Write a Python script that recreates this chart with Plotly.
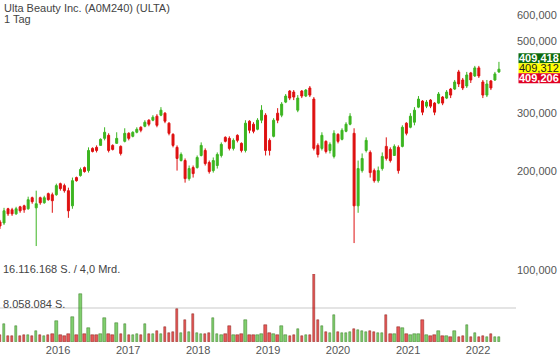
import plotly.graph_objects as go
import pandas as pd

# ---------------- data ----------------
title_text = "Ulta Beauty Inc. (A0M240) (ULTA)"
period_text = "1 Tag"
start_date = "2015-03-04"          # first candle
candle_step = "21D"                # each candle summarises ~3 weeks

open_ = [140.1, 139.1, 153.7, 152.6, 148.3, 155.8, 156.9, 153.7, 166.1, 154.7,
         166.1, 160.3, 170.9, 169.6, 169.6, 183.3, 180.8, 174.5, 156.9, 191.3,
         194.0, 205.2, 200.9, 234.8, 236.5, 239.8, 251.9, 257.3, 239.8, 243.2,
         238.1, 246.7, 261.0, 255.5, 262.9, 272.3, 274.2, 286.1, 286.1, 294.3,
         296.4, 300.6, 280.2, 259.2, 236.5, 215.6, 215.6, 189.9, 205.2, 205.2,
         223.4, 231.4, 212.6, 200.9, 208.2, 223.4, 253.7, 251.9, 234.8, 257.3,
         243.2, 231.4, 284.1, 278.2, 268.5, 286.1, 296.4, 248.4, 255.5, 300.6,
         296.4, 324.9, 351.1, 348.7, 307.0, 351.1, 339.0, 358.8, 331.9, 239.8,
         234.8, 246.7, 231.4, 221.9, 259.2, 250.2, 264.7, 278.2, 261.0, 156.9,
         200.9, 231.4, 228.2, 200.9, 187.2, 203.8, 238.1, 233.1, 223.4, 236.5,
         238.1, 280.2, 272.3, 282.1, 313.6, 327.2, 315.8, 329.5, 322.6, 322.6,
         336.6, 334.2, 356.1, 356.1, 401.6, 379.5, 363.8, 398.8, 390.4, 413.1,
         374.2, 341.3, 376.9, 379.5, 401.6]
high = [142.1, 154.7, 154.7, 154.7, 155.8, 156.9, 158.1, 167.3, 167.3, 174.5,
        167.3, 168.4, 172.1, 172.1, 183.3, 184.6, 183.3, 178.2, 191.3, 192.6,
        205.2, 206.7, 236.5, 236.5, 239.8, 251.9, 272.3, 261.0, 241.5, 262.9,
        239.8, 270.4, 262.9, 264.7, 272.3, 274.2, 286.1, 288.2, 296.4, 298.5,
        313.6, 302.7, 282.1, 261.0, 239.8, 228.2, 218.8, 208.2, 208.2, 223.4,
        244.9, 234.8, 215.6, 220.3, 228.2, 244.9, 255.5, 255.5, 251.9, 259.2,
        244.9, 286.1, 286.1, 282.1, 290.2, 318.0, 300.6, 251.9, 290.2, 311.4,
        324.9, 343.8, 353.6, 353.6, 341.3, 353.6, 356.1, 363.8, 336.6, 243.2,
        262.9, 248.4, 244.9, 266.6, 261.0, 270.4, 282.1, 300.6, 270.4, 215.6,
        226.6, 253.7, 231.4, 203.8, 206.7, 228.2, 253.7, 236.5, 241.5, 239.8,
        276.1, 282.1, 300.6, 313.6, 339.0, 329.5, 329.5, 331.9, 324.9, 348.7,
        339.0, 353.6, 358.8, 379.5, 407.3, 384.9, 401.6, 401.6, 418.9, 418.9,
        379.5, 379.5, 379.5, 401.6, 431.0]
low = [133.4, 137.2, 146.2, 146.2, 147.3, 149.4, 149.4, 152.6, 159.2, 118.3,
       158.1, 159.2, 162.6, 149.4, 168.4, 174.5, 172.1, 144.2, 153.7, 185.9,
       192.6, 198.1, 198.1, 228.2, 228.2, 239.8, 248.4, 228.2, 231.4, 243.2,
       223.4, 244.9, 248.4, 253.7, 261.0, 262.9, 272.3, 274.2, 284.1, 272.3,
       294.3, 280.2, 257.3, 236.5, 200.9, 214.1, 184.6, 187.2, 191.3, 203.8,
       221.9, 208.2, 196.7, 198.1, 203.8, 220.3, 244.9, 231.4, 231.4, 244.9,
       228.2, 228.2, 261.0, 261.0, 266.6, 280.2, 223.4, 223.4, 253.7, 280.2,
       292.2, 322.6, 329.5, 329.5, 302.7, 334.2, 336.6, 336.6, 231.4, 220.3,
       231.4, 226.6, 226.6, 218.8, 243.2, 248.4, 262.9, 276.1, 120.8, 149.4,
       198.1, 228.2, 191.3, 184.6, 184.6, 200.9, 215.6, 212.6, 223.4, 196.7,
       236.5, 257.3, 270.4, 276.1, 311.4, 296.4, 311.4, 311.4, 296.4, 320.3,
       318.0, 331.9, 334.2, 353.6, 361.3, 353.6, 358.8, 371.6, 387.6, 384.9,
       334.2, 336.6, 353.6, 376.9, 398.8]
close = [136.2, 151.5, 148.3, 148.3, 153.7, 151.5, 152.6, 163.8, 161.5, 159.2,
         160.3, 166.1, 163.8, 162.6, 180.8, 177.0, 174.5, 151.5, 187.2, 187.2,
         202.4, 199.5, 231.4, 229.8, 231.4, 250.2, 262.9, 231.4, 233.1, 251.9,
         226.6, 261.0, 251.9, 262.9, 268.5, 266.6, 282.1, 278.2, 292.2, 276.1,
         307.0, 284.1, 261.0, 239.8, 218.8, 225.0, 189.9, 203.8, 196.7, 220.3,
         239.8, 211.1, 199.5, 215.6, 225.0, 241.5, 246.7, 234.8, 248.4, 248.4,
         231.4, 280.2, 266.6, 264.7, 286.1, 307.0, 231.4, 231.4, 286.1, 286.1,
         320.3, 339.0, 334.2, 336.6, 334.2, 339.0, 353.6, 341.3, 234.8, 225.0,
         257.3, 229.8, 241.5, 261.0, 246.7, 266.6, 278.2, 294.3, 156.9, 203.8,
         218.8, 248.4, 198.1, 187.2, 200.9, 221.9, 218.8, 215.6, 238.1, 200.9,
         272.3, 261.0, 294.3, 307.0, 331.9, 302.7, 324.9, 315.8, 302.7, 343.8,
         322.6, 348.7, 341.3, 374.2, 369.0, 358.8, 393.1, 379.5, 413.1, 390.4,
         341.3, 369.0, 358.8, 396.0, 409.312]
volume_mio = [1.6, 4.2, 1.5, 1.4, 3.7, 1.5, 1.6, 1.7, 1.5, 2.7,
              1.6, 1.5, 1.7, 1.8, 5.0, 1.6, 1.5, 2.0, 6.0, 1.7,
              11.3, 1.8, 3.4, 1.7, 1.6, 1.9, 5.8, 2.0, 1.7, 4.6,
              1.8, 4.3, 1.7, 1.6, 1.8, 1.7, 4.3, 1.8, 1.9, 2.7,
              2.0, 3.6, 2.1, 2.3, 7.9, 2.2, 5.2, 2.4, 6.6, 2.2,
              2.0, 1.9, 2.1, 5.8, 1.8, 1.7, 1.9, 3.9, 1.7, 1.6,
              1.8, 5.2, 1.7, 1.6, 1.7, 1.9, 4.0, 2.1, 1.8, 1.7,
              3.8, 1.6, 1.5, 1.6, 3.1, 1.5, 1.6, 1.7, 16.116168, 5.2,
              3.9, 2.4, 2.2, 6.5, 2.3, 2.1, 2.2, 2.4, 3.0, 2.8,
              2.6, 2.4, 2.5, 2.3, 2.2, 2.1, 6.4, 2.0, 1.9, 3.5,
              3.4, 1.8, 1.7, 1.9, 1.8, 5.1, 1.6, 1.5, 1.6, 2.7,
              1.5, 1.4, 1.3, 2.7, 1.3, 1.4, 4.1, 1.3, 2.2, 1.2,
              1.4, 1.3, 1.9, 1.2, 1.1]

price_ticks = [100, 200, 300, 500, 600]
year_ticks = ["2016", "2017", "2018", "2019", "2020", "2021", "2022"]
vol_max = 16116168
vol_lines = [8058084, 16116168]
vol_labels = ["8.058.084 S.", "16.116.168 S. / 4,0 Mrd."]
badge_values = [409.418, 409.312, 409.206]   # ask / last / bid

# ---------------- derived ----------------
dates = pd.date_range(start=start_date, periods=len(close), freq=candle_step)
volume = [v * 1e6 for v in volume_mio]


def de_num(v):
    return f"{v:.3f}".replace(".", ",")


GREEN = "#3cb521"
RED = "#de1010"
vol_colors = ["rgba(60,181,33,0.65)" if c >= o else "rgba(222,16,16,0.7)"
              for o, c in zip(open_, close)]
vol_lines_col = ["rgba(40,110,20,0.9)" if c >= o else "rgba(120,20,10,0.9)"
                 for o, c in zip(open_, close)]

W, H = 560, 363
ML, MR, MT, MB = 0, 44, 0, 21
PW, PH = W - ML - MR, H - MT - MB
FONT = "Liberation Sans, Arial, sans-serif"


def fx(px):
    return (px - ML) / PW


def fy(py):
    return (PH - (py - MT)) / PH


fig = go.Figure()
fig.add_trace(go.Bar(
    x=dates, y=volume, yaxis="y2", xaxis="x",
    marker=dict(color=vol_colors, line=dict(width=0.5, color=vol_lines_col)),
    width=21 * 24 * 3600 * 1000 * 0.6, showlegend=False, hoverinfo="skip"))
fig.add_trace(go.Candlestick(
    x=dates, open=open_, high=high, low=low, close=close,
    yaxis="y", xaxis="x",
    increasing=dict(line=dict(color=GREEN, width=1), fillcolor=GREEN),
    decreasing=dict(line=dict(color=RED, width=1), fillcolor=RED),
    whiskerwidth=0, showlegend=False, hoverinfo="skip"))

log_lo, log_hi = 1.7805, 2.823

fig.update_layout(
    width=W, height=H,
    margin=dict(l=ML, r=MR, t=MT, b=MB, pad=0, autoexpand=False),
    paper_bgcolor="white", plot_bgcolor="white",
    font=dict(family=FONT, size=11, color="#555555"),
    bargap=0,
    xaxis=dict(type="date", range=["2015-03-04", "2022-07-18"],
               tickvals=[f"{y}-01-01" for y in year_ticks], ticktext=year_ticks,
               showgrid=False, zeroline=False, showline=False, ticks="",
               rangeslider=dict(visible=False), anchor="y2", automargin=False,
               tickfont=dict(size=11, color="#555555")),
    yaxis=dict(type="log", range=[log_lo, log_hi], side="right", domain=[0, 1],
               tickvals=price_ticks, ticktext=[de_num(v) for v in price_ticks],
               showgrid=False, zeroline=False, showline=False, ticks="",
               automargin=False,
               tickfont=dict(size=11, color="#555555"), anchor="x"),
    yaxis2=dict(range=[0, vol_max], domain=[0, 68 / PH], side="right",
                tickvals=vol_lines, showticklabels=False, showgrid=True,
                gridcolor="#e4e4e4", gridwidth=2, zeroline=False,
                showline=False, ticks="", anchor="x", automargin=False),
)

annotations = [
    dict(text=title_text, x=fx(2), y=fy(8), xref="paper", yref="paper",
         xanchor="left", yanchor="middle", showarrow=False,
         font=dict(size=11, color="#444444")),
    dict(text=period_text, x=fx(2), y=fy(19), xref="paper", yref="paper",
         xanchor="left", yanchor="middle", showarrow=False,
         font=dict(size=11, color="#444444")),
    dict(text=vol_labels[1], x=fx(1), y=fy(268.5), xref="paper", yref="paper",
         xanchor="left", yanchor="middle", showarrow=False,
         font=dict(size=11, color="#444444")),
    dict(text=vol_labels[0], x=fx(1), y=fy(303.5), xref="paper", yref="paper",
         xanchor="left", yanchor="middle", showarrow=False,
         font=dict(size=11, color="#444444")),
]

badge_styles = [("#0c6b0c", "white", True), ("#ffff00", "#222222", False), ("#e00022", "white", True)]
shapes = []
for i, (val, (bg, fg, bold)) in enumerate(zip(badge_values, badge_styles)):
    top = 53.3 + 10 * i
    shapes.append(dict(type="rect", xref="paper", yref="paper",
                       x0=fx(518.5), x1=fx(560), y0=fy(top + 10), y1=fy(top),
                       fillcolor=bg, line=dict(width=0), layer="above"))
    txt = de_num(val)
    annotations.append(dict(text=f"<b>{txt}</b>" if bold else txt,
                            x=fx(517.5), y=fy(top + 5), xref="paper", yref="paper",
                            xanchor="left", yanchor="middle", showarrow=False,
                            borderpad=0, font=dict(size=11, color=fg)))

fig.update_layout(annotations=annotations, shapes=shapes)
fig.write_html("out.html", config={"displayModeBar": False},
               post_script="document.body.style.margin='0';")
